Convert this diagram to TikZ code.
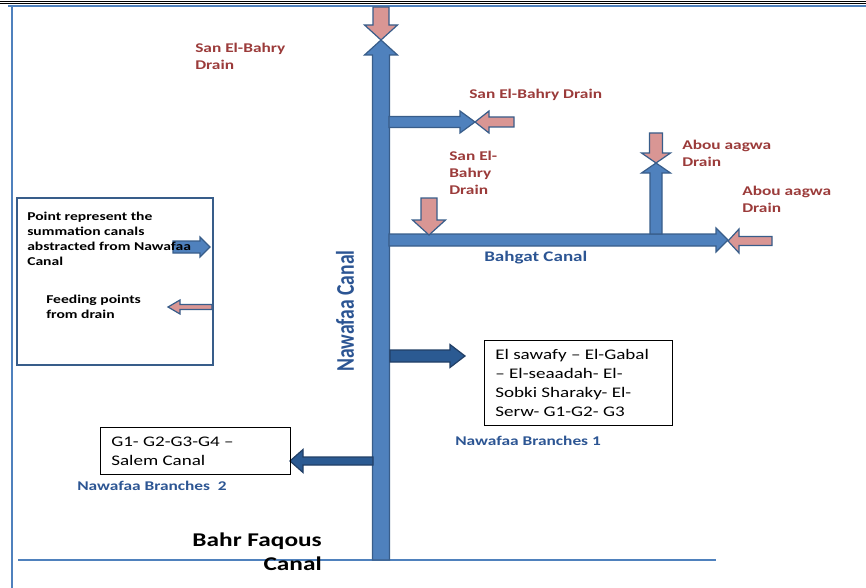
\documentclass[tikz,border=0pt]{standalone}
\usepackage{fontspec}
\setmainfont{Carlito}[FakeStretch=1.3]
\newfontfamily\uprightfont{Carlito}[FakeStretch=0.77]
\usetikzlibrary{positioning}

\definecolor{canalfill}{HTML}{4F81BD}
\definecolor{canaledge}{HTML}{385D8A}
\definecolor{drainfill}{HTML}{D99694}
\definecolor{branchfill}{HTML}{2B5A92}
\definecolor{branchedge}{HTML}{213F66}
\definecolor{draintext}{HTML}{9B3B3A}
\definecolor{canaltext}{HTML}{2C5593}

% block arrow: style, start x, start y, angle, length, shaft half, head half, head length
\newcommand{\canalarrow}[8]{%
  \begin{scope}[shift={(#2,#3)},rotate=#4]
    \draw[#1] (0,-#6) -- ({#5-#8},-#6) -- ({#5-#8},-#7) -- (#5,0)
      -- ({#5-#8},#7) -- ({#5-#8},#6) -- (0,#6) -- cycle;
  \end{scope}}

\tikzset{
  canalflow/.style={draw=canaledge,fill=canalfill,line width=0.9pt,line join=miter},
  drainflow/.style={draw=canaledge,fill=drainfill,line width=0.9pt,line join=miter},
  branchflow/.style={draw=branchedge,fill=branchfill,line width=0.9pt,line join=miter},
  drainlbl/.style={inner sep=0pt,anchor=north west,align=left,text=draintext,
                   font=\fontsize{10}{12.75}\selectfont\bfseries},
  canallbl/.style={inner sep=0pt,anchor=north west,align=left,text=canaltext,
                   font=\fontsize{10}{12.75}\selectfont\bfseries},
  keytext/.style={inner sep=0pt,anchor=north west,align=left,
                  font=\fontsize{9}{11.25}\selectfont\bfseries},
  branchbox/.style={draw,line width=0.6pt,inner sep=0pt},
  boxtext/.style={inner sep=0pt,anchor=north west,align=left,
                  font=\fontsize{11}{14.3}\selectfont}
}

\begin{document}
\begin{tikzpicture}[x=0.75pt,y=-0.75pt]
  \useasboundingbox (0,0) rectangle (866,588);

  % frame
  \draw[line width=0.7pt] (0,1) -- (866,1);
  \draw[line width=0.7pt] (0,3.3) -- (866,3.3);
  \draw[canalfill,line width=1.5pt] (8,6.5) -- (866,6.5);
  \draw[canalfill,line width=1.5pt] (12,6.5) -- (12,588);
  \draw[canalfill,line width=1.5pt] (18,560) -- (716,560);

  % Nawafaa canal and its branches
  \canalarrow{canalflow}{381}{560}{90}{520}{8.5}{16.5}{15}
  \canalarrow{drainflow}{381}{7}{-90}{33}{8}{16.5}{15}
  \canalarrow{canalflow}{389}{122}{0}{86}{5.5}{11}{15}
  \canalarrow{drainflow}{514}{122}{180}{39}{5}{11}{14}
  \canalarrow{canalflow}{389}{240}{0}{339}{6}{12}{12}
  \canalarrow{drainflow}{772}{241}{180}{44}{4.5}{12}{11}
  \canalarrow{drainflow}{429}{198}{-90}{37}{8}{16.5}{15}
  \canalarrow{canalflow}{656}{234}{90}{71}{6}{14.5}{10}
  \canalarrow{drainflow}{656}{133}{-90}{30}{6.5}{14.5}{10}
  \canalarrow{branchflow}{390}{356}{0}{75}{6}{11.5}{15}
  \canalarrow{branchflow}{373}{461}{180}{83}{4}{11.5}{13}

  % drain labels
  \node[drainlbl] (bahry1) at (195,43) {San El-Bahry\\Drain};
  \node[drainlbl] (bahry2) at (469,89) {San El-Bahry Drain};
  \node[drainlbl] (bahry3) at (449,151) {San El-\\Bahry\\Drain};
  \node[drainlbl] (aagwa1) at (682,140) {Abou aagwa\\Drain};
  \node[drainlbl] (aagwa2) at (742,186) {Abou aagwa\\Drain};

  % canal labels
  \node[canallbl,font=\fontsize{11}{13}\selectfont\bfseries] (bahgat) at (484,251) {Bahgat Canal};
  \node[inner sep=0pt,rotate=90,text=canaltext,
        font=\uprightfont\fontsize{19.1}{22}\selectfont\bfseries] (nawafaa) at (345,311) {Nawafaa Canal};
  \node[canallbl] (branches1) at (455,436) {Nawafaa Branches 1};
  \node[canallbl] (branches2) at (77,481) {Nawafaa Branches\ \ 2};

  % branch boxes
  \draw[branchbox] (484,340) rectangle (672,425);
  \node[boxtext] (list1) at (495,349) {El sawafy -- El-Gabal\\-- El-seaadah- El-\\Sobki Sharaky- El-\\Serw- G1-G2- G3};
  \draw[branchbox] (100,427) rectangle (290,474);
  \node[boxtext] (list2) at (111,437) {G1- G2-G3-G4 --\\Salem Canal};

  % Bahr Faqous
  \node[inner sep=0pt,anchor=north east,align=right,
        font=\fontsize{14.6}{18}\selectfont\bfseries] (faqous) at (322,533) {Bahr Faqous\\Canal};

  % key
  \draw[canaledge,line width=1.1pt] (17,198) rectangle (213,365);
  \canalarrow{canalflow}{173}{247}{0}{37}{6}{10}{10}
  \canalarrow{drainflow}{212}{307}{180}{44}{2.5}{7}{12}
  \node[keytext] (keycanal) at (27,212) {Point represent the\\summation canals\\abstracted from Nawafaa\\Canal};
  \node[keytext] (keydrain) at (46,295) {Feeding points\\from drain};
\end{tikzpicture}
\end{document}
